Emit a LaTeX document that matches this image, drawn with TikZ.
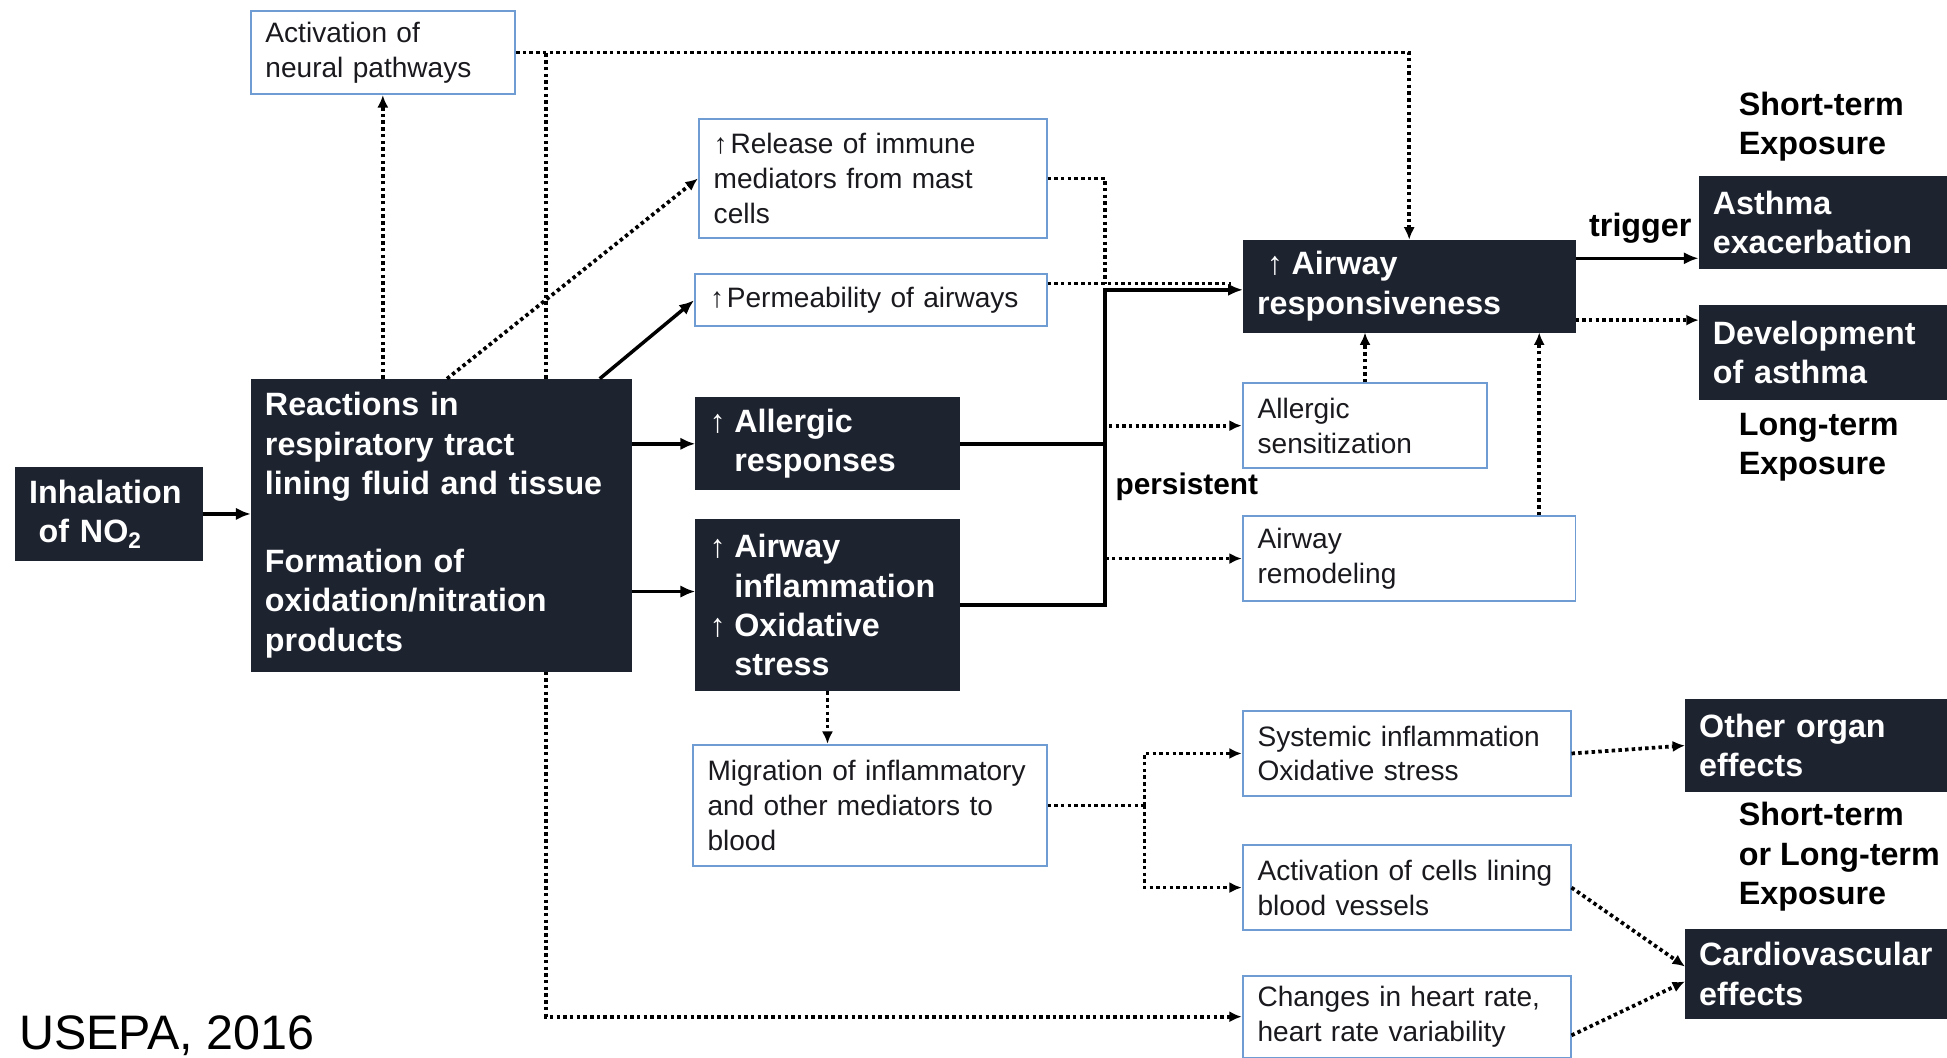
\documentclass[tikz,border=0pt]{standalone}
\usepackage{fontspec}
\setmainfont{Liberation Sans}
\usetikzlibrary{arrows.meta,calc}
\definecolor{boxdark}{RGB}{30,35,48}
\definecolor{boxline}{RGB}{112,156,212}
\definecolor{txtdark}{RGB}{25,25,30}
\hyphenpenalty=10000
\exhyphenpenalty=10000
\newcommand{\uparD}{\makebox[0.77em][l]{\mdseries ↑}}
\newcommand{\uparL}{\makebox[0.6em][l]{↑}}
\newcommand{\indD}{\hspace*{0.77em}}
\begin{document}
\begin{tikzpicture}[x=0.5pt,y=-0.5pt,
  darkbox/.style={draw=boxdark, fill=boxdark, text=white, font=\fontsize{13}{15.8}\selectfont\bfseries, align=left, anchor=north west, inner xsep=5.5pt, inner ysep=0pt},
  litebox/.style={draw=boxline, line width=0.8pt, fill=white, text=txtdark, font=\fontsize{11.3}{14}\selectfont, align=left, anchor=north west, inner xsep=6pt, inner ysep=0pt},
  lbl/.style={font=\fontsize{13}{15.8}\selectfont\bfseries, align=left, inner sep=0pt, text=black},
  solidline/.style={line width=1.4pt, black},
  solidarrow/.style={solidline, -{Latex[length=6pt,width=5pt]}},
  dotline/.style={line width=1.5pt, dash pattern=on 1.4pt off 1.3pt, black},
  dotarrow/.style={dotline, -{Latex[length=5pt,width=4.5pt]}},
]
\fill[white] (0,0) rectangle (1568,852);
\useasboundingbox (0,0) rectangle (1568,852);

% boxes
\node[darkbox, text width=64.5pt, minimum height=37.5pt] (inh) at (12,376) {Inhalation\\\hspace*{0.3em}of NO\textsubscript{2}};
\node[darkbox, text width=142pt, minimum height=117.5pt] (react) at (202,305) {Reactions in\\respiratory tract\\lining fluid and tissue\\[15.8pt]Formation of\\oxidation/nitration\\products};
\node[litebox, text width=94.5pt, minimum height=33.5pt] (act) at (201,8) {Activation of\\neural pathways};
\node[litebox, text width=128pt, minimum height=48pt] (rel) at (562,95) {\uparL Release of immune\\mediators from mast\\cells};
\node[litebox, text width=129.5pt, minimum height=21pt] (perm) at (559,220) {\uparL Permeability of airways};
\node[darkbox, text width=95pt, minimum height=37pt] (allr) at (560,320) {\uparD Allergic\\\indD responses};
\node[darkbox, text width=95pt, minimum height=69pt] (infl) at (560,418) {\uparD Airway\\\indD inflammation\\\uparD Oxidative\\\indD stress};
\node[litebox, text width=130.5pt, minimum height=49pt] (mig) at (557,599) {Migration of inflammatory\\and other mediators to\\blood};
\node[darkbox, text width=122.5pt, minimum height=37pt] (resp) at (1001,193) {\hspace*{0.3em}\uparD Airway\\responsiveness};
\node[litebox, text width=86.5pt, minimum height=34pt] (sens) at (1000,308) {Allergic\\sensitization};
\node[litebox, text width=122pt, minimum height=34pt] (remod) at (1000,415) {Airway\\remodeling};
\node[darkbox, text width=89pt, minimum height=37pt] (asex) at (1368,142) {Asthma\\exacerbation};
\node[darkbox, text width=89pt, minimum height=37.5pt] (devel) at (1368,246) {Development\\of asthma};
\node[darkbox, text width=94.5pt, minimum height=37pt] (other) at (1357,563) {Other organ\\effects};
\node[darkbox, text width=94.5pt, minimum height=36pt] (cardio) at (1357,748) {Cardiovascular\\effects};
\node[litebox, text width=120pt, minimum height=34pt] (syst) at (1000,572) {Systemic inflammation\\Oxidative stress};
\node[litebox, text width=120pt, minimum height=34pt] (actc) at (1000,680) {Activation of cells lining\\blood vessels};
\node[litebox, text width=120pt, minimum height=33pt] (chg) at (1000,785) {Changes in heart rate,\\heart rate variability};

% labels
\node[lbl, anchor=west] (st1) at (1400,102) {Short-term\\Exposure};
\node[lbl, anchor=west] (lt1) at (1400,360) {Long-term\\Exposure};
\node[lbl, anchor=west] (st2) at (1400,690) {Short-term\\or Long-term\\Exposure};
\node[lbl] (trig) at (1321,184) {trigger};
\node[lbl, anchor=west, font=\fontsize{12}{14}\selectfont\bfseries] (pers) at (898,392) {persistent};
\node[anchor=base west, inner sep=0pt, font=\fontsize{19.5}{23}\selectfont] (src) at (15,845) {USEPA, 2016};

% connectors
\draw[solidarrow] (inh.east) -- (inh.east -| react.west);
\draw[dotarrow] (act.south |- react.north) -- (act.south);
\coordinate (rA) at ($(react.north west)+(158,0)$);
\draw[dotarrow] (rA) -- (rel.west);
\coordinate (rB) at ($(react.north west)+(281,0)$);
\draw[solidarrow] (rB) -- (perm.west);
\draw[solidarrow] (react.east |- allr.west) -- (allr.west);
\coordinate (rC) at ($(infl.west)+(0,-11)$);
\draw[solidarrow] (react.east |- rC) -- (rC);
\coordinate (rtop) at ($(react.north west)+(238,0)$);
\coordinate (rbot) at ($(react.south west)+(238,0)$);
\draw[dotline] (rtop) -- (rtop |- act.east);
\draw[dotarrow] (act.east) -| (resp.north);
\draw[dotarrow] (rbot) |- (chg.west);
\coordinate (jx) at ($(resp.west)+(-111,3)$);
\coordinate (jd) at ($(resp.west)+(-111,-2)$);
\coordinate (je) at ($(resp.west)+(-10,-2)$);
\draw[dotline] (rel.east) -| (jd);
\draw[dotline] (perm.east |- jd) -- (jd) -- (je);
\draw[solidline] (allr.east) -- (allr.east -| jx);
\draw[solidarrow] (infl.east) -| (jx) -- ($(resp.west)+(0,3)$);
\coordinate (sj) at ($(sens.west)+(-107,0)$);
\draw[dotarrow] (sj) -- (sens.west);
\coordinate (mj) at ($(remod.west)+(-110,0)$);
\draw[dotarrow] (mj) -- (remod.west);
\draw[dotarrow] (sens.north) -- (sens.north |- resp.south);
\coordinate (rm) at ($(remod.north east)+(-30,0)$);
\draw[dotarrow] (rm) -- (rm |- resp.south);
\coordinate (t1) at ($(resp.north east)+(0,15)$);
\draw[solidarrow] (t1) -- (t1 -| asex.west);
\coordinate (t2) at ($(resp.south east)+(0,-10)$);
\draw[dotarrow] (t2) -- (t2 -| devel.west);
\draw[dotarrow] (infl.south) -- (infl.south |- mig.north);
\coordinate (mx) at ($(mig.east)+(78,0)$);
\draw[dotline] (mig.east) -- (mx);
\draw[dotarrow] (mx) |- (syst.west);
\draw[dotarrow] (mx) |- (actc.west);
\draw[dotarrow] (syst.east) -- (other.west);
\draw[dotarrow] (actc.east) -- ($(cardio.west)+(0,-6)$);
\draw[dotarrow] ($(chg.east)+(0,15)$) -- ($(cardio.west)+(0,6)$);
\end{tikzpicture}
\end{document}
